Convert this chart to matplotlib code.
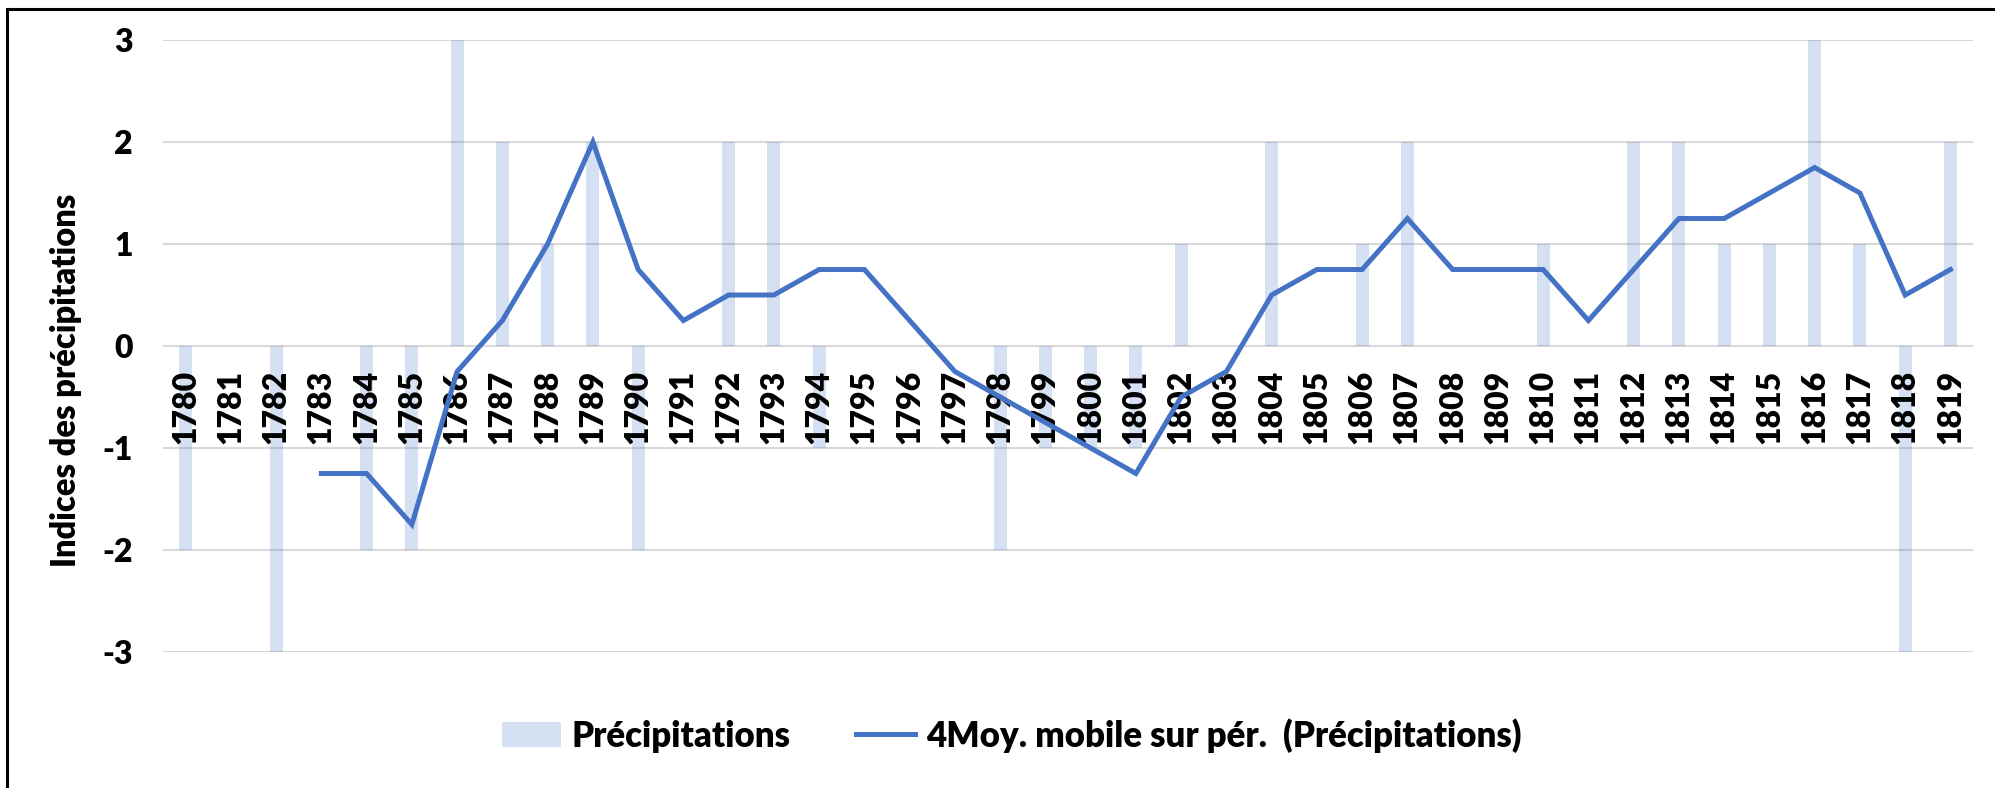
import matplotlib
matplotlib.use("Agg")
import matplotlib.pyplot as plt
from matplotlib.lines import Line2D
from matplotlib.patches import Patch

plt.rcParams['font.family'] = ['Lato', 'DejaVu Sans']
plt.rcParams['font.weight'] = 'heavy'
plt.rcParams['axes.unicode_minus'] = False

years = list(range(1780, 1820))
precip = [-2, 0, -3, 0, -2, -2, 3, 2, 1, 2,
          -2, 0, 2, 2, -1, 0, 0, 0, -2, -1,
          -1, -1, 1, 0, 2, 0, 1, 2, 0, 0,
          1, 0, 2, 2, 1, 1, 3, 1, -3, 2]
# 4-period moving average (starts at 1783)
ma_years = list(range(1783, 1820))
moving_avg = [-1.25, -1.25, -1.75, -0.25, 0.25, 1.0, 2.0, 0.75, 0.25, 0.5,
              0.5, 0.75, 0.75, 0.25, -0.25, -0.5, -0.75, -1.0, -1.25, -0.5,
              -0.25, 0.5, 0.75, 0.75, 1.25, 0.75, 0.75, 0.75, 0.25, 0.75,
              1.25, 1.25, 1.5, 1.75, 1.5, 0.5, 0.75]

blue = '#4472C4'
bar_alpha = 0.22
fs = 23

fig = plt.figure(figsize=(19.95, 7.88), dpi=100)
ax = fig.add_axes([0.0817, 0.1726, 0.9073, 0.7766])

xpos = [y - years[0] for y in years]
ax.bar(xpos, precip, width=0.29, color=blue, alpha=bar_alpha, zorder=2)
ax.plot([y - years[0] for y in ma_years], moving_avg, color=blue, lw=3.6,
        solid_joinstyle='miter', zorder=4)

ax.set_xlim(-0.5, len(years) - 0.5)
ax.set_ylim(-3, 3)
ax.set_yticks([-3, -2, -1, 0, 1, 2, 3])
ax.yaxis.grid(True, color='#D9D9D9', lw=1.5, zorder=1)
ax.set_axisbelow(True)
ax.tick_params(axis='y', length=0, pad=22, labelsize=fs)
ax.tick_params(axis='x', length=0, labelbottom=False)
for s in ax.spines.values():
    s.set_visible(False)

# year labels sit just under the zero line, inside the plot
for x, yr in zip(xpos, years):
    ax.annotate(str(yr), xy=(x, 0), xytext=(0, -24), textcoords='offset pixels',
                rotation=90, ha='center', va='top', fontsize=fs,
                fontweight='heavy', zorder=3)

fig.text(66 / 1995, 1 - 380 / 788, 'Indices des précipitations',
         rotation=90, ha='center', va='center', fontsize=23.5,
         fontweight='heavy')

handles = [Patch(facecolor=blue, alpha=bar_alpha, edgecolor='none'),
           Line2D([0], [0], color=blue, lw=3.6)]
labels = ['Précipitations', '4Moy. mobile sur pér.  (Précipitations)']
fig.legend(handles, labels, loc='center', bbox_to_anchor=(0.507, 0.067),
           ncol=2, frameon=False, fontsize=25, handlelength=1.7,
           handletextpad=0.3, columnspacing=1.9)

# outer frame (top and left edges visible)
fig.add_artist(Line2D([7 / 1995, 1.0], [1 - 8.5 / 788, 1 - 8.5 / 788],
                      transform=fig.transFigure, color='black', lw=2.2))
fig.add_artist(Line2D([7 / 1995, 7 / 1995], [0, 1 - 8.5 / 788],
                      transform=fig.transFigure, color='black', lw=2.2))

fig.savefig('out.png', dpi=100)
